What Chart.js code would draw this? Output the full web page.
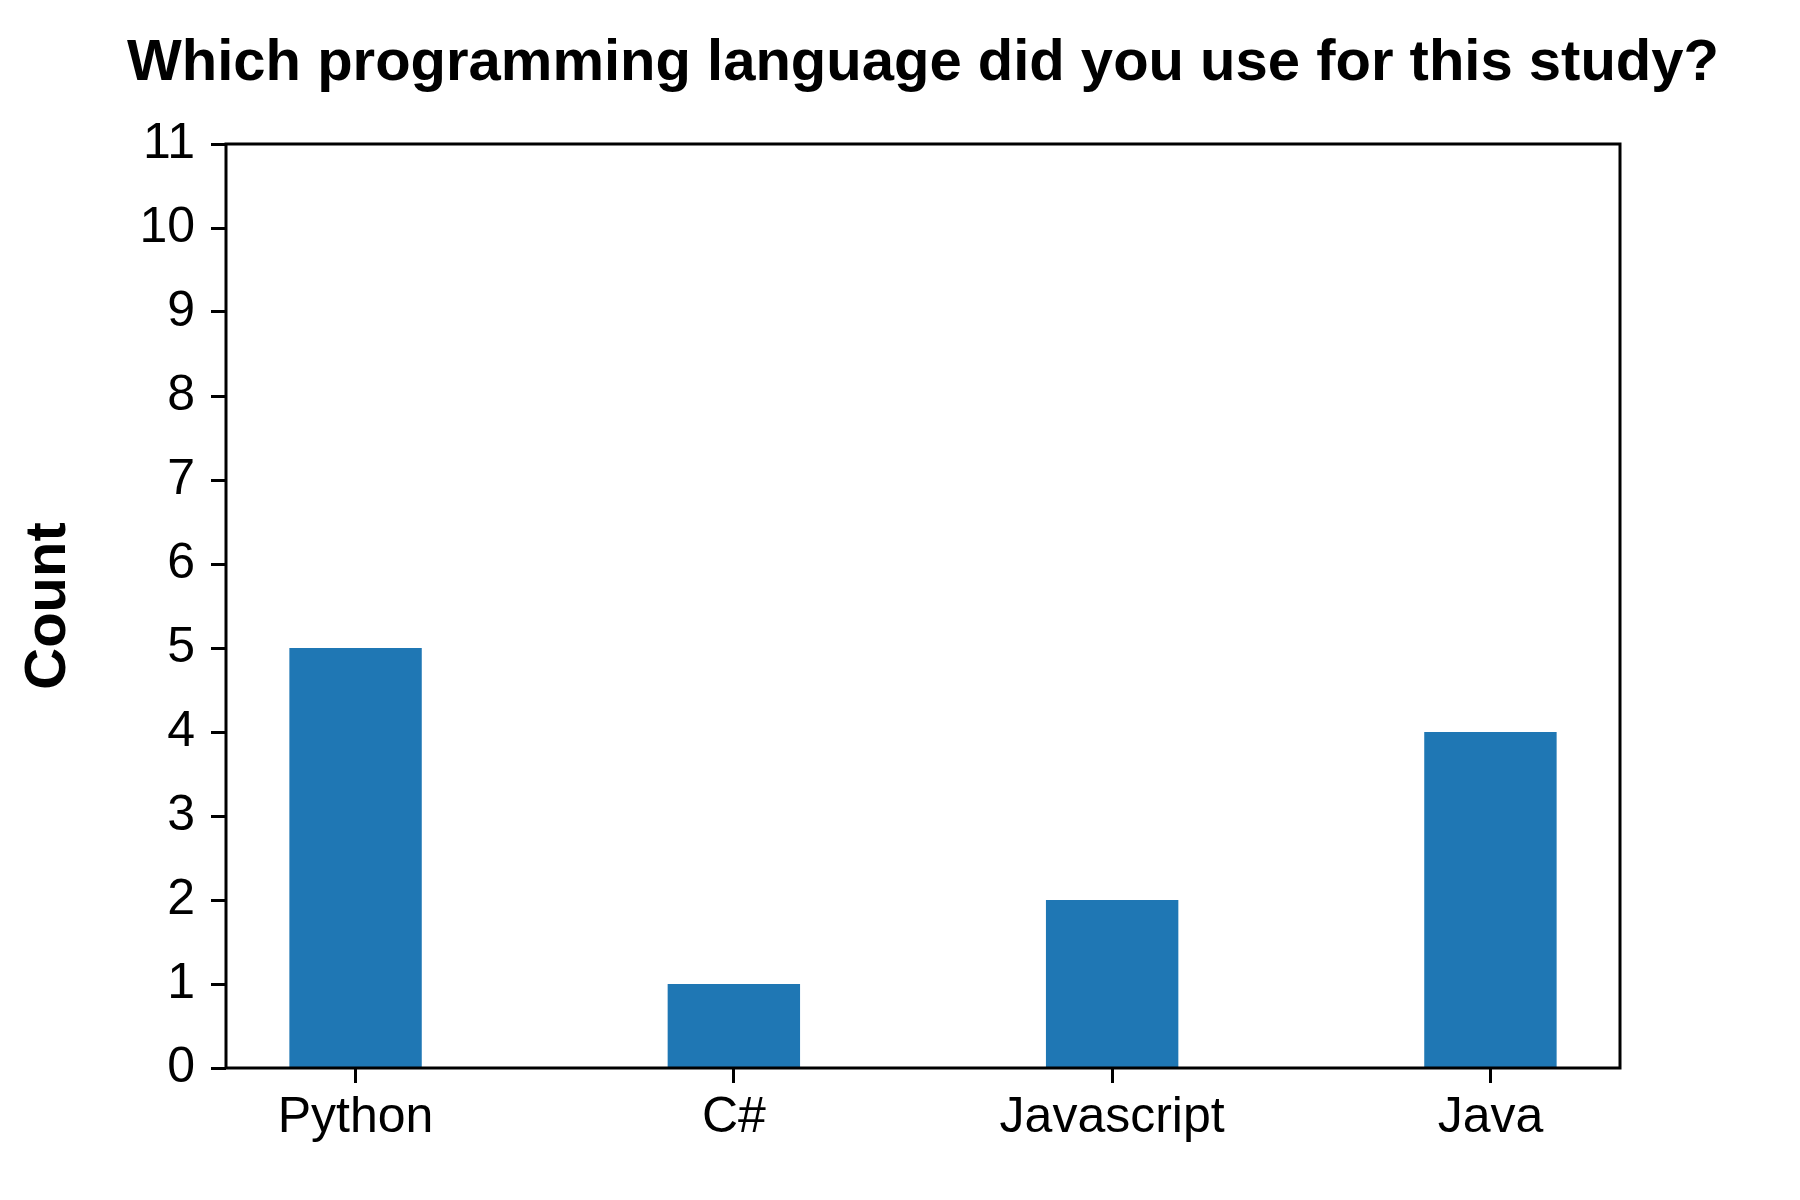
<!DOCTYPE html>
<html>
<head>
<meta charset="utf-8">
<script src="https://cdn.jsdelivr.net/npm/chart.js@4.4.1/dist/chart.umd.min.js"></script>
<style>
  html, body { margin: 0; padding: 0; background: #fff; }
  #wrap { width: 1800px; height: 1200px; }
</style>
</head>
<body>
<div id="wrap"><canvas id="chart" width="1800" height="1200"></canvas></div>
<script>
// survey answers
const languages = ["Python", "C#", "Javascript", "Java"];
const counts = [5, 1, 2, 4];
const yTicks = [0, 1, 2, 3, 4, 5, 6, 7, 8, 9, 10, 11];
const chartTitle = "Which programming language did you use for this study?";

const FONT = "'Liberation Sans', Arial, Helvetica, sans-serif";

// matplotlib style closed frame over the bars, title centred on the plot area
const frameBox = {
  id: "frameBox",
  afterDatasetsDraw(chart) {
    const a = chart.chartArea;
    const ctx = chart.ctx;
    ctx.save();
    ctx.strokeStyle = "#000";
    ctx.lineWidth = 3;
    ctx.strokeRect(a.left, a.top, a.right - a.left, a.bottom - a.top);
    ctx.fillStyle = "#000";
    ctx.font = "bold 58px " + FONT;
    ctx.textAlign = "center";
    ctx.textBaseline = "alphabetic";
    ctx.fillText(chartTitle, (a.left + a.right) / 2, 80);
    ctx.restore();
  }
};

new Chart(document.getElementById("chart"), {
  type: "bar",
  data: {
    datasets: [{
      data: languages.map((name, i) => ({ x: i, y: counts[i] })),
      backgroundColor: "#1f77b4",
      borderWidth: 0,
      categoryPercentage: 1,
      barPercentage: 0.35
    }]
  },
  options: {
    responsive: false,
    animation: false,
    devicePixelRatio: 1,
    layout: { padding: { left: 0, right: 180, top: 144, bottom: 0 } },
    plugins: {
      legend: { display: false },
      tooltip: { enabled: false },
      title: { display: false }
    },
    scales: {
      x: {
        type: "linear",
        offset: false,
        min: -0.3425,
        max: 3.3425,
        afterBuildTicks: axis => { axis.ticks = languages.map((n, i) => ({ value: i })); },
        afterFit: axis => { axis.height = 132; },
        ticks: {
          callback: v => languages[v],
          color: "#000",
          font: { family: FONT, size: 50 },
          padding: 5,
          maxRotation: 0,
          autoSkip: false
        },
        grid: { offset: false, drawOnChartArea: false, drawTicks: true, tickLength: 15, tickWidth: 3, tickColor: "#000" },
        border: { display: false }
      },
      y: {
        min: 0,
        max: 11,
        afterBuildTicks: axis => { axis.ticks = yTicks.map(v => ({ value: v })); },
        afterFit: axis => { axis.width = 226; },
        ticks: {
          color: "#000",
          font: { family: FONT, size: 50 },
          padding: 16,
          autoSkip: false
        },
        grid: { drawOnChartArea: false, drawTicks: true, tickLength: 15, tickWidth: 3, tickColor: "#000" },
        border: { display: false },
        title: {
          display: true,
          text: "Count",
          color: "#000",
          font: { family: FONT, size: 58, weight: "bold", lineHeight: 1 },
          padding: { top: 20, bottom: 0 }
        }
      }
    }
  },
  plugins: [frameBox]
});
</script>
</body>
</html>
